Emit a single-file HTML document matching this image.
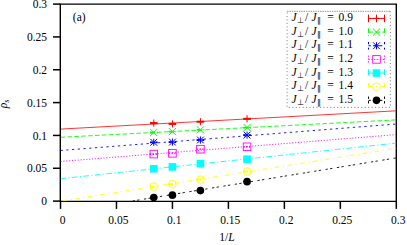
<!DOCTYPE html><html><head><meta charset="utf-8"><style>html,body{margin:0;padding:0;background:#fff}body{width:407px;height:245px;overflow:hidden}</style></head><body><svg width="407" height="245" viewBox="0 0 407 245" style="display:block"><rect width="407" height="245" fill="#fff"/><defs><clipPath id="cp"><rect x="60.5" y="4.1" width="335.8" height="197.3"/></clipPath></defs><path d="M60.3 201.35V4.15H396.3V201.35Z" fill="none" stroke="#000" stroke-width="1.4" stroke-linejoin="miter"/><line x1="60.50" y1="201.35" x2="60.50" y2="208.9" stroke="#000" stroke-width="1.5"/><line x1="60.3" y1="201.10" x2="53.0" y2="201.10" stroke="#000" stroke-width="1.5"/><line x1="116.47" y1="201.35" x2="116.47" y2="208.9" stroke="#000" stroke-width="1.5"/><line x1="60.3" y1="168.27" x2="53.0" y2="168.27" stroke="#000" stroke-width="1.5"/><line x1="172.43" y1="201.35" x2="172.43" y2="208.9" stroke="#000" stroke-width="1.5"/><line x1="60.3" y1="135.43" x2="53.0" y2="135.43" stroke="#000" stroke-width="1.5"/><line x1="228.40" y1="201.35" x2="228.40" y2="208.9" stroke="#000" stroke-width="1.5"/><line x1="60.3" y1="102.60" x2="53.0" y2="102.60" stroke="#000" stroke-width="1.5"/><line x1="284.37" y1="201.35" x2="284.37" y2="208.9" stroke="#000" stroke-width="1.5"/><line x1="60.3" y1="69.77" x2="53.0" y2="69.77" stroke="#000" stroke-width="1.5"/><line x1="340.33" y1="201.35" x2="340.33" y2="208.9" stroke="#000" stroke-width="1.5"/><line x1="60.3" y1="36.93" x2="53.0" y2="36.93" stroke="#000" stroke-width="1.5"/><line x1="396.30" y1="201.35" x2="396.30" y2="208.9" stroke="#000" stroke-width="1.5"/><line x1="60.3" y1="4.10" x2="53.0" y2="4.10" stroke="#000" stroke-width="1.5"/><g clip-path="url(#cp)"><line x1="60.5" y1="129.1" x2="396.3" y2="110.8" stroke="#ff0000" stroke-width="0.8"/><line x1="60.5" y1="137.3" x2="396.3" y2="119.9" stroke="#00ff00" stroke-width="0.88" stroke-dasharray="4.60 2.30"/><line x1="60.5" y1="150.5" x2="396.3" y2="124.0" stroke="#0000ff" stroke-width="0.88" stroke-dasharray="2.30 3.45"/><line x1="60.5" y1="161.5" x2="396.3" y2="134.6" stroke="#ff00ff" stroke-width="0.88" stroke-dasharray="1.15 1.72"/><line x1="60.5" y1="178.7" x2="396.3" y2="143.1" stroke="#00ffff" stroke-width="0.88" stroke-dasharray="5.75 2.30 1.15 2.30"/><line x1="62.6" y1="200.95" x2="396.3" y2="148.3" stroke="#ffff00" stroke-width="0.88" stroke-dasharray="4.60 3.45 1.15 3.45"/><line x1="132.6" y1="201.0" x2="396.3" y2="157.9" stroke="#000000" stroke-width="0.88" stroke-dasharray="2.30 2.30 2.30 4.60"/></g><line x1="149.98" y1="123.10" x2="157.58" y2="123.10" stroke="#ff0000" stroke-width="2.0"/><path d="M150.23 123.10H157.33M153.78 119.55V126.65" stroke="#ff0000" stroke-width="1.0" fill="none"/><line x1="168.63" y1="123.90" x2="176.23" y2="123.90" stroke="#ff0000" stroke-width="2.0"/><path d="M168.88 123.90H175.98M172.43 120.35V127.45" stroke="#ff0000" stroke-width="1.0" fill="none"/><line x1="196.62" y1="121.70" x2="204.22" y2="121.70" stroke="#ff0000" stroke-width="2.0"/><path d="M196.87 121.70H203.97M200.42 118.15V125.25" stroke="#ff0000" stroke-width="1.0" fill="none"/><line x1="243.26" y1="118.80" x2="250.86" y2="118.80" stroke="#ff0000" stroke-width="2.0"/><path d="M243.51 118.80H250.61M247.06 115.25V122.35" stroke="#ff0000" stroke-width="1.0" fill="none"/><line x1="149.98" y1="132.50" x2="157.58" y2="132.50" stroke="#00ff00" stroke-width="1.8" stroke-dasharray="4.60 2.30"/><path d="M150.18 128.90L157.38 136.10M150.18 136.10L157.38 128.90" stroke="#00ff00" stroke-width="1.0" fill="none"/><line x1="168.63" y1="131.60" x2="176.23" y2="131.60" stroke="#00ff00" stroke-width="1.8" stroke-dasharray="4.60 2.30"/><path d="M168.83 128.00L176.03 135.20M168.83 135.20L176.03 128.00" stroke="#00ff00" stroke-width="1.0" fill="none"/><line x1="196.62" y1="129.80" x2="204.22" y2="129.80" stroke="#00ff00" stroke-width="1.8" stroke-dasharray="4.60 2.30"/><path d="M196.82 126.20L204.02 133.40M196.82 133.40L204.02 126.20" stroke="#00ff00" stroke-width="1.0" fill="none"/><line x1="243.26" y1="127.55" x2="250.86" y2="127.55" stroke="#00ff00" stroke-width="1.8" stroke-dasharray="4.60 2.30"/><path d="M243.46 123.95L250.66 131.15M243.46 131.15L250.66 123.95" stroke="#00ff00" stroke-width="1.0" fill="none"/><line x1="149.98" y1="142.30" x2="157.58" y2="142.30" stroke="#0000ff" stroke-width="1.8" stroke-dasharray="2.30 3.45"/><path d="M150.23 142.30H157.33M153.78 138.75V145.85M150.38 138.90L157.18 145.70M150.38 145.70L157.18 138.90" stroke="#0000ff" stroke-width="1.0" fill="none"/><line x1="168.63" y1="142.10" x2="176.23" y2="142.10" stroke="#0000ff" stroke-width="1.8" stroke-dasharray="2.30 3.45"/><path d="M168.88 142.10H175.98M172.43 138.55V145.65M169.03 138.70L175.83 145.50M169.03 145.50L175.83 138.70" stroke="#0000ff" stroke-width="1.0" fill="none"/><line x1="196.62" y1="140.00" x2="204.22" y2="140.00" stroke="#0000ff" stroke-width="1.8" stroke-dasharray="2.30 3.45"/><path d="M196.87 140.00H203.97M200.42 136.45V143.55M197.02 136.60L203.82 143.40M197.02 143.40L203.82 136.60" stroke="#0000ff" stroke-width="1.0" fill="none"/><line x1="243.26" y1="135.10" x2="250.86" y2="135.10" stroke="#0000ff" stroke-width="1.8" stroke-dasharray="2.30 3.45"/><path d="M243.51 135.10H250.61M247.06 131.55V138.65M243.66 131.70L250.46 138.50M243.66 138.50L250.46 131.70" stroke="#0000ff" stroke-width="1.0" fill="none"/><line x1="149.98" y1="154.10" x2="157.58" y2="154.10" stroke="#ff00ff" stroke-width="1.8" stroke-dasharray="1.15 1.72"/><rect x="149.98" y="150.30" width="7.60" height="7.60" stroke="#ff00ff" stroke-width="0.9" fill="none"/><circle cx="153.78" cy="154.10" r="0.45" fill="#ff00ff"/><line x1="168.63" y1="153.35" x2="176.23" y2="153.35" stroke="#ff00ff" stroke-width="1.8" stroke-dasharray="1.15 1.72"/><rect x="168.63" y="149.55" width="7.60" height="7.60" stroke="#ff00ff" stroke-width="0.9" fill="none"/><circle cx="172.43" cy="153.35" r="0.45" fill="#ff00ff"/><line x1="196.62" y1="149.20" x2="204.22" y2="149.20" stroke="#ff00ff" stroke-width="1.8" stroke-dasharray="1.15 1.72"/><rect x="196.62" y="145.40" width="7.60" height="7.60" stroke="#ff00ff" stroke-width="0.9" fill="none"/><circle cx="200.42" cy="149.20" r="0.45" fill="#ff00ff"/><line x1="243.26" y1="146.80" x2="250.86" y2="146.80" stroke="#ff00ff" stroke-width="1.8" stroke-dasharray="1.15 1.72"/><rect x="243.26" y="143.00" width="7.60" height="7.60" stroke="#ff00ff" stroke-width="0.9" fill="none"/><circle cx="247.06" cy="146.80" r="0.45" fill="#ff00ff"/><line x1="149.98" y1="168.75" x2="157.58" y2="168.75" stroke="#00ffff" stroke-width="1.8" stroke-dasharray="5.75 2.30 1.15 2.30"/><rect x="149.98" y="164.95" width="7.60" height="7.60" fill="#00ffff"/><line x1="168.63" y1="166.90" x2="176.23" y2="166.90" stroke="#00ffff" stroke-width="1.8" stroke-dasharray="5.75 2.30 1.15 2.30"/><rect x="168.63" y="163.10" width="7.60" height="7.60" fill="#00ffff"/><line x1="196.62" y1="163.65" x2="204.22" y2="163.65" stroke="#00ffff" stroke-width="1.8" stroke-dasharray="5.75 2.30 1.15 2.30"/><rect x="196.62" y="159.85" width="7.60" height="7.60" fill="#00ffff"/><line x1="243.26" y1="159.20" x2="250.86" y2="159.20" stroke="#00ffff" stroke-width="1.8" stroke-dasharray="5.75 2.30 1.15 2.30"/><rect x="243.26" y="155.40" width="7.60" height="7.60" fill="#00ffff"/><line x1="149.98" y1="186.65" x2="157.58" y2="186.65" stroke="#ffff00" stroke-width="1.8" stroke-dasharray="4.60 3.45 1.15 3.45"/><circle cx="153.78" cy="186.65" r="3.80" stroke="#ffff00" stroke-width="1.0" fill="none"/><circle cx="153.78" cy="186.65" r="0.6" fill="#ffff00"/><line x1="168.63" y1="184.15" x2="176.23" y2="184.15" stroke="#ffff00" stroke-width="1.8" stroke-dasharray="4.60 3.45 1.15 3.45"/><circle cx="172.43" cy="184.15" r="3.80" stroke="#ffff00" stroke-width="1.0" fill="none"/><circle cx="172.43" cy="184.15" r="0.6" fill="#ffff00"/><line x1="196.62" y1="179.60" x2="204.22" y2="179.60" stroke="#ffff00" stroke-width="1.8" stroke-dasharray="4.60 3.45 1.15 3.45"/><circle cx="200.42" cy="179.60" r="3.80" stroke="#ffff00" stroke-width="1.0" fill="none"/><circle cx="200.42" cy="179.60" r="0.6" fill="#ffff00"/><line x1="243.26" y1="171.50" x2="250.86" y2="171.50" stroke="#ffff00" stroke-width="1.8" stroke-dasharray="4.60 3.45 1.15 3.45"/><circle cx="247.06" cy="171.50" r="3.80" stroke="#ffff00" stroke-width="1.0" fill="none"/><circle cx="247.06" cy="171.50" r="0.6" fill="#ffff00"/><line x1="149.98" y1="197.60" x2="157.58" y2="197.60" stroke="#000000" stroke-width="1.8" stroke-dasharray="2.30 2.30 2.30 4.60"/><circle cx="153.78" cy="197.60" r="3.80" fill="#000000"/><line x1="168.63" y1="195.15" x2="176.23" y2="195.15" stroke="#000000" stroke-width="1.8" stroke-dasharray="2.30 2.30 2.30 4.60"/><circle cx="172.43" cy="195.15" r="3.80" fill="#000000"/><line x1="196.62" y1="190.60" x2="204.22" y2="190.60" stroke="#000000" stroke-width="1.8" stroke-dasharray="2.30 2.30 2.30 4.60"/><circle cx="200.42" cy="190.60" r="3.80" fill="#000000"/><line x1="243.26" y1="181.65" x2="250.86" y2="181.65" stroke="#000000" stroke-width="1.8" stroke-dasharray="2.30 2.30 2.30 4.60"/><circle cx="247.06" cy="181.65" r="3.80" fill="#000000"/><g font-family="'Liberation Serif','DejaVu Serif',serif" font-size="11.5" fill="#000"><g text-anchor="middle"><text x="62.5" y="224.4">0</text><text x="118.4" y="224.4">0.05</text><text x="174.2" y="224.4">0.1</text><text x="230.3" y="224.4">0.15</text><text x="286.3" y="224.4">0.2</text><text x="342.3" y="224.4">0.25</text><text x="398.3" y="224.4">0.3</text></g><g text-anchor="end"><text x="47" y="205.2">0</text><text x="47" y="172.4">0.05</text><text x="47" y="139.5">0.1</text><text x="47" y="106.7">0.15</text><text x="47" y="73.9">0.2</text><text x="47" y="41">0.25</text><text x="47" y="8.2">0.3</text></g><text x="219.3" y="240.5">1/<tspan font-style="italic">L</tspan></text><text transform="translate(6.9,103.3) rotate(-90)" x="-5" y="0" font-style="italic">ρ<tspan font-size="8" dy="1.7">s</tspan></text><text x="72.8" y="20.6">(a)</text></g><rect x="287.1" y="11.3" width="103.29999999999995" height="96.10000000000001" fill="#fff"/><line x1="287.1" y1="11.3" x2="390.4" y2="11.3" stroke="#444" stroke-width="0.6" stroke-dasharray="1.4 0.96"/><path d="M390.4 11.3V107.4H287.1V11.3" fill="none" stroke="#444" stroke-width="0.7" stroke-dasharray="1.0 2.45"/><g font-family="'Liberation Serif','DejaVu Serif',serif" font-size="11.5" fill="#000"><g transform="translate(0,20.95)"><text x="291.5" y="0" font-style="italic">J</text><text x="297.3" y="2.1" font-size="8" font-family="'Liberation Serif','DejaVu Sans',serif">⊥</text><text x="305" y="0">/</text><text x="311.4" y="0" font-style="italic">J</text><text x="317" y="2.1" font-size="8" font-family="'Liberation Serif','DejaVu Sans',serif">∥</text><text x="327.2" y="0">=</text><text x="338.6" y="0">0.9</text></g><g transform="translate(0,34.6)"><text x="291.5" y="0" font-style="italic">J</text><text x="297.3" y="2.1" font-size="8" font-family="'Liberation Serif','DejaVu Sans',serif">⊥</text><text x="305" y="0">/</text><text x="311.4" y="0" font-style="italic">J</text><text x="317" y="2.1" font-size="8" font-family="'Liberation Serif','DejaVu Sans',serif">∥</text><text x="327.2" y="0">=</text><text x="338.6" y="0">1.0</text></g><g transform="translate(0,48.25)"><text x="291.5" y="0" font-style="italic">J</text><text x="297.3" y="2.1" font-size="8" font-family="'Liberation Serif','DejaVu Sans',serif">⊥</text><text x="305" y="0">/</text><text x="311.4" y="0" font-style="italic">J</text><text x="317" y="2.1" font-size="8" font-family="'Liberation Serif','DejaVu Sans',serif">∥</text><text x="327.2" y="0">=</text><text x="338.6" y="0">1.1</text></g><g transform="translate(0,61.9)"><text x="291.5" y="0" font-style="italic">J</text><text x="297.3" y="2.1" font-size="8" font-family="'Liberation Serif','DejaVu Sans',serif">⊥</text><text x="305" y="0">/</text><text x="311.4" y="0" font-style="italic">J</text><text x="317" y="2.1" font-size="8" font-family="'Liberation Serif','DejaVu Sans',serif">∥</text><text x="327.2" y="0">=</text><text x="338.6" y="0">1.2</text></g><g transform="translate(0,75.55)"><text x="291.5" y="0" font-style="italic">J</text><text x="297.3" y="2.1" font-size="8" font-family="'Liberation Serif','DejaVu Sans',serif">⊥</text><text x="305" y="0">/</text><text x="311.4" y="0" font-style="italic">J</text><text x="317" y="2.1" font-size="8" font-family="'Liberation Serif','DejaVu Sans',serif">∥</text><text x="327.2" y="0">=</text><text x="338.6" y="0">1.3</text></g><g transform="translate(0,89.2)"><text x="291.5" y="0" font-style="italic">J</text><text x="297.3" y="2.1" font-size="8" font-family="'Liberation Serif','DejaVu Sans',serif">⊥</text><text x="305" y="0">/</text><text x="311.4" y="0" font-style="italic">J</text><text x="317" y="2.1" font-size="8" font-family="'Liberation Serif','DejaVu Sans',serif">∥</text><text x="327.2" y="0">=</text><text x="338.6" y="0">1.4</text></g><g transform="translate(0,102.85)"><text x="291.5" y="0" font-style="italic">J</text><text x="297.3" y="2.1" font-size="8" font-family="'Liberation Serif','DejaVu Sans',serif">⊥</text><text x="305" y="0">/</text><text x="311.4" y="0" font-style="italic">J</text><text x="317" y="2.1" font-size="8" font-family="'Liberation Serif','DejaVu Sans',serif">∥</text><text x="327.2" y="0">=</text><text x="338.6" y="0">1.5</text></g></g><line x1="368.5" y1="18.45" x2="384.5" y2="18.45" stroke="#ff0000" stroke-width="1.0"/><line x1="368.5" y1="14.65" x2="368.5" y2="22.25" stroke="#ff0000" stroke-width="1.0"/><line x1="384.5" y1="14.65" x2="384.5" y2="22.25" stroke="#ff0000" stroke-width="1.0"/><path d="M372.70 18.45H380.30M376.50 14.65V22.25" stroke="#ff0000" stroke-width="1.0" fill="none"/><line x1="368.5" y1="32.10" x2="384.5" y2="32.10" stroke="#00ff00" stroke-width="1.0" stroke-dasharray="4.60 2.30"/><line x1="368.5" y1="28.30" x2="368.5" y2="35.90" stroke="#00ff00" stroke-width="1.0" stroke-dasharray="4.60 2.30"/><line x1="384.5" y1="28.30" x2="384.5" y2="35.90" stroke="#00ff00" stroke-width="1.0" stroke-dasharray="4.60 2.30"/><path d="M372.90 28.50L380.10 35.70M372.90 35.70L380.10 28.50" stroke="#00ff00" stroke-width="1.0" fill="none"/><line x1="368.5" y1="45.75" x2="384.5" y2="45.75" stroke="#0000ff" stroke-width="1.0" stroke-dasharray="2.30 3.45"/><line x1="368.5" y1="41.95" x2="368.5" y2="49.55" stroke="#0000ff" stroke-width="1.0" stroke-dasharray="2.30 3.45"/><line x1="384.5" y1="41.95" x2="384.5" y2="49.55" stroke="#0000ff" stroke-width="1.0" stroke-dasharray="2.30 3.45"/><path d="M372.95 45.75H380.05M376.50 42.20V49.30M373.10 42.35L379.90 49.15M373.10 49.15L379.90 42.35" stroke="#0000ff" stroke-width="1.0" fill="none"/><line x1="368.5" y1="59.40" x2="384.5" y2="59.40" stroke="#ff00ff" stroke-width="1.0" stroke-dasharray="1.15 1.72"/><line x1="368.5" y1="55.60" x2="368.5" y2="63.20" stroke="#ff00ff" stroke-width="1.0" stroke-dasharray="1.15 1.72"/><line x1="384.5" y1="55.60" x2="384.5" y2="63.20" stroke="#ff00ff" stroke-width="1.0" stroke-dasharray="1.15 1.72"/><rect x="372.70" y="55.60" width="7.60" height="7.60" stroke="#ff00ff" stroke-width="0.9" fill="none"/><circle cx="376.50" cy="59.40" r="0.45" fill="#ff00ff"/><line x1="368.5" y1="73.05" x2="384.5" y2="73.05" stroke="#00ffff" stroke-width="1.0" stroke-dasharray="5.75 2.30 1.15 2.30"/><line x1="368.5" y1="69.25" x2="368.5" y2="76.85" stroke="#00ffff" stroke-width="1.0" stroke-dasharray="5.75 2.30 1.15 2.30"/><line x1="384.5" y1="69.25" x2="384.5" y2="76.85" stroke="#00ffff" stroke-width="1.0" stroke-dasharray="5.75 2.30 1.15 2.30"/><rect x="372.70" y="69.25" width="7.60" height="7.60" fill="#00ffff"/><line x1="368.5" y1="86.70" x2="384.5" y2="86.70" stroke="#ffff00" stroke-width="1.0" stroke-dasharray="4.60 3.45 1.15 3.45"/><line x1="368.5" y1="82.90" x2="368.5" y2="90.50" stroke="#ffff00" stroke-width="1.0" stroke-dasharray="4.60 3.45 1.15 3.45"/><line x1="384.5" y1="82.90" x2="384.5" y2="90.50" stroke="#ffff00" stroke-width="1.0" stroke-dasharray="4.60 3.45 1.15 3.45"/><circle cx="376.50" cy="86.70" r="3.80" stroke="#ffff00" stroke-width="1.0" fill="none"/><circle cx="376.50" cy="86.70" r="0.6" fill="#ffff00"/><line x1="368.5" y1="100.35" x2="384.5" y2="100.35" stroke="#000000" stroke-width="1.0" stroke-dasharray="2.30 2.30 2.30 4.60"/><line x1="368.5" y1="96.55" x2="368.5" y2="104.15" stroke="#000000" stroke-width="1.0" stroke-dasharray="2.30 2.30 2.30 4.60"/><line x1="384.5" y1="96.55" x2="384.5" y2="104.15" stroke="#000000" stroke-width="1.0" stroke-dasharray="2.30 2.30 2.30 4.60"/><circle cx="376.50" cy="100.35" r="3.80" fill="#000000"/></svg></body></html>
